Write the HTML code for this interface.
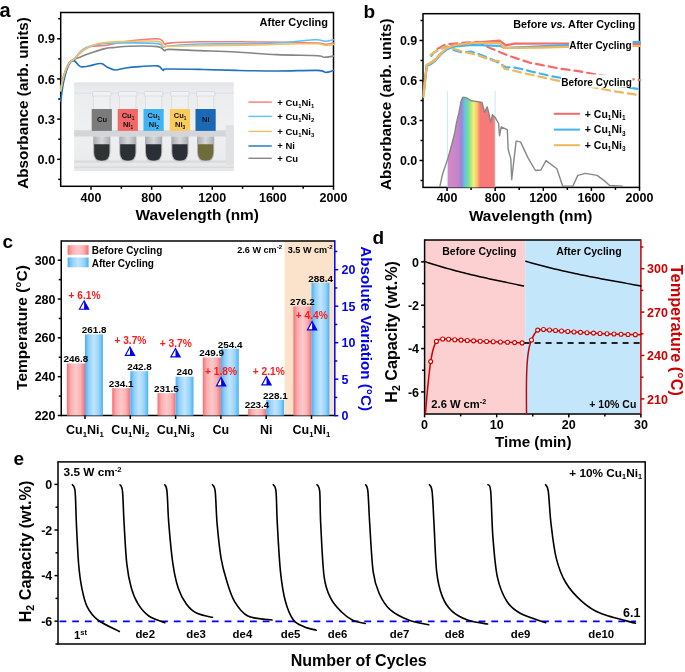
<!DOCTYPE html>
<html><head><meta charset="utf-8"><style>
html,body{margin:0;padding:0;background:#fff;width:685px;height:672px;overflow:hidden}
svg{display:block;filter:blur(0.3px)}
</style></head><body>
<svg width="685" height="672" viewBox="0 0 685 672">
<rect width="685" height="672" fill="#fff"/>
<rect x="60.7" y="12.5" width="272.8" height="173.8" fill="none" stroke="#000" stroke-width="1.5"/>
<line x1="57.20" y1="159.30" x2="60.70" y2="159.30" stroke="#000" stroke-width="1.5" />
<text x="55.00" y="163.90" font-size="12.5" text-anchor="end" fill="#000" font-family="Liberation Sans, sans-serif" font-weight="bold" >0.0</text>
<line x1="57.20" y1="119.13" x2="60.70" y2="119.13" stroke="#000" stroke-width="1.5" />
<text x="55.00" y="123.73" font-size="12.5" text-anchor="end" fill="#000" font-family="Liberation Sans, sans-serif" font-weight="bold" >0.3</text>
<line x1="57.20" y1="78.96" x2="60.70" y2="78.96" stroke="#000" stroke-width="1.5" />
<text x="55.00" y="83.56" font-size="12.5" text-anchor="end" fill="#000" font-family="Liberation Sans, sans-serif" font-weight="bold" >0.6</text>
<line x1="57.20" y1="38.79" x2="60.70" y2="38.79" stroke="#000" stroke-width="1.5" />
<text x="55.00" y="43.39" font-size="12.5" text-anchor="end" fill="#000" font-family="Liberation Sans, sans-serif" font-weight="bold" >0.9</text>
<line x1="58.20" y1="179.39" x2="60.70" y2="179.39" stroke="#000" stroke-width="1.5" />
<line x1="58.20" y1="139.22" x2="60.70" y2="139.22" stroke="#000" stroke-width="1.5" />
<line x1="58.20" y1="99.05" x2="60.70" y2="99.05" stroke="#000" stroke-width="1.5" />
<line x1="58.20" y1="58.88" x2="60.70" y2="58.88" stroke="#000" stroke-width="1.5" />
<line x1="58.20" y1="18.70" x2="60.70" y2="18.70" stroke="#000" stroke-width="1.5" />
<line x1="91.01" y1="186.30" x2="91.01" y2="189.80" stroke="#000" stroke-width="1.5" />
<text x="91.01" y="202.40" font-size="12.5" text-anchor="middle" fill="#000" font-family="Liberation Sans, sans-serif" font-weight="bold" >400</text>
<line x1="151.63" y1="186.30" x2="151.63" y2="189.80" stroke="#000" stroke-width="1.5" />
<text x="151.63" y="202.40" font-size="12.5" text-anchor="middle" fill="#000" font-family="Liberation Sans, sans-serif" font-weight="bold" >800</text>
<line x1="212.26" y1="186.30" x2="212.26" y2="189.80" stroke="#000" stroke-width="1.5" />
<text x="212.26" y="202.40" font-size="12.5" text-anchor="middle" fill="#000" font-family="Liberation Sans, sans-serif" font-weight="bold" >1200</text>
<line x1="272.88" y1="186.30" x2="272.88" y2="189.80" stroke="#000" stroke-width="1.5" />
<text x="272.88" y="202.40" font-size="12.5" text-anchor="middle" fill="#000" font-family="Liberation Sans, sans-serif" font-weight="bold" >1600</text>
<line x1="333.50" y1="186.30" x2="333.50" y2="189.80" stroke="#000" stroke-width="1.5" />
<text x="333.50" y="202.40" font-size="12.5" text-anchor="middle" fill="#000" font-family="Liberation Sans, sans-serif" font-weight="bold" >2000</text>
<line x1="121.32" y1="186.30" x2="121.32" y2="188.80" stroke="#000" stroke-width="1.5" />
<line x1="181.94" y1="186.30" x2="181.94" y2="188.80" stroke="#000" stroke-width="1.5" />
<line x1="242.57" y1="186.30" x2="242.57" y2="188.80" stroke="#000" stroke-width="1.5" />
<line x1="303.19" y1="186.30" x2="303.19" y2="188.80" stroke="#000" stroke-width="1.5" />
<text x="197.20" y="220.40" font-size="15.4" text-anchor="middle" fill="#000" font-family="Liberation Sans, sans-serif" font-weight="bold" >Wavelength (nm)</text>
<text x="28.40" y="103.00" font-size="15.3" text-anchor="middle" fill="#000" font-family="Liberation Sans, sans-serif" font-weight="bold" transform="rotate(-90 28.4 103)">Absorbance (arb. units)</text>
<text x="-0.60" y="16.50" font-size="20" text-anchor="start" fill="#000" font-family="Liberation Sans, sans-serif" font-weight="bold" >a</text>
<text x="328.00" y="26.40" font-size="11" text-anchor="end" fill="#000" font-family="Liberation Sans, sans-serif" font-weight="bold" >After Cycling</text>
<rect x="423.0" y="13.7" width="216.5" height="173.70000000000002" fill="none" stroke="#000" stroke-width="1.5"/>
<line x1="419.50" y1="160.50" x2="423.00" y2="160.50" stroke="#000" stroke-width="1.5" />
<text x="417.30" y="165.10" font-size="12.5" text-anchor="end" fill="#000" font-family="Liberation Sans, sans-serif" font-weight="bold" >0.0</text>
<line x1="419.50" y1="120.50" x2="423.00" y2="120.50" stroke="#000" stroke-width="1.5" />
<text x="417.30" y="125.10" font-size="12.5" text-anchor="end" fill="#000" font-family="Liberation Sans, sans-serif" font-weight="bold" >0.3</text>
<line x1="419.50" y1="80.50" x2="423.00" y2="80.50" stroke="#000" stroke-width="1.5" />
<text x="417.30" y="85.10" font-size="12.5" text-anchor="end" fill="#000" font-family="Liberation Sans, sans-serif" font-weight="bold" >0.6</text>
<line x1="419.50" y1="40.50" x2="423.00" y2="40.50" stroke="#000" stroke-width="1.5" />
<text x="417.30" y="45.10" font-size="12.5" text-anchor="end" fill="#000" font-family="Liberation Sans, sans-serif" font-weight="bold" >0.9</text>
<line x1="420.50" y1="180.50" x2="423.00" y2="180.50" stroke="#000" stroke-width="1.5" />
<line x1="420.50" y1="140.50" x2="423.00" y2="140.50" stroke="#000" stroke-width="1.5" />
<line x1="420.50" y1="100.50" x2="423.00" y2="100.50" stroke="#000" stroke-width="1.5" />
<line x1="420.50" y1="60.50" x2="423.00" y2="60.50" stroke="#000" stroke-width="1.5" />
<line x1="420.50" y1="20.50" x2="423.00" y2="20.50" stroke="#000" stroke-width="1.5" />
<line x1="447.06" y1="187.40" x2="447.06" y2="190.90" stroke="#000" stroke-width="1.5" />
<text x="447.06" y="202.40" font-size="12.5" text-anchor="middle" fill="#000" font-family="Liberation Sans, sans-serif" font-weight="bold" >400</text>
<line x1="495.17" y1="187.40" x2="495.17" y2="190.90" stroke="#000" stroke-width="1.5" />
<text x="495.17" y="202.40" font-size="12.5" text-anchor="middle" fill="#000" font-family="Liberation Sans, sans-serif" font-weight="bold" >800</text>
<line x1="543.28" y1="187.40" x2="543.28" y2="190.90" stroke="#000" stroke-width="1.5" />
<text x="543.28" y="202.40" font-size="12.5" text-anchor="middle" fill="#000" font-family="Liberation Sans, sans-serif" font-weight="bold" >1200</text>
<line x1="591.39" y1="187.40" x2="591.39" y2="190.90" stroke="#000" stroke-width="1.5" />
<text x="591.39" y="202.40" font-size="12.5" text-anchor="middle" fill="#000" font-family="Liberation Sans, sans-serif" font-weight="bold" >1600</text>
<line x1="639.50" y1="187.40" x2="639.50" y2="190.90" stroke="#000" stroke-width="1.5" />
<text x="639.50" y="202.40" font-size="12.5" text-anchor="middle" fill="#000" font-family="Liberation Sans, sans-serif" font-weight="bold" >2000</text>
<line x1="471.11" y1="187.40" x2="471.11" y2="189.90" stroke="#000" stroke-width="1.5" />
<line x1="519.22" y1="187.40" x2="519.22" y2="189.90" stroke="#000" stroke-width="1.5" />
<line x1="567.33" y1="187.40" x2="567.33" y2="189.90" stroke="#000" stroke-width="1.5" />
<line x1="615.44" y1="187.40" x2="615.44" y2="189.90" stroke="#000" stroke-width="1.5" />
<text x="530.60" y="220.60" font-size="15.4" text-anchor="middle" fill="#000" font-family="Liberation Sans, sans-serif" font-weight="bold" >Wavelength (nm)</text>
<text x="390.60" y="104.20" font-size="15.3" text-anchor="middle" fill="#000" font-family="Liberation Sans, sans-serif" font-weight="bold" transform="rotate(-90 390.6 104.2)">Absorbance (arb. units)</text>
<text x="363.50" y="17.90" font-size="19" text-anchor="start" fill="#000" font-family="Liberation Sans, sans-serif" font-weight="bold" >b</text>
<text x="635.30" y="28.00" font-size="10.8" text-anchor="end" fill="#000" font-family="Liberation Sans, sans-serif" font-weight="bold" >Before <tspan font-style="italic">vs.</tspan> After Cycling</text>
<rect x="284.60" y="241.10" width="50.20" height="174.40" fill="#fbe2cb" />
<line x1="61.25" y1="241.10" x2="334.80" y2="241.10" stroke="#000" stroke-width="1.5" />
<line x1="61.25" y1="415.50" x2="334.80" y2="415.50" stroke="#000" stroke-width="1.5" />
<line x1="61.25" y1="240.35" x2="61.25" y2="416.25" stroke="#000" stroke-width="1.5" />
<line x1="334.80" y1="240.35" x2="334.80" y2="416.25" stroke="#0000ee" stroke-width="1.5" />
<line x1="57.75" y1="415.50" x2="61.25" y2="415.50" stroke="#000" stroke-width="1.5" />
<text x="55.50" y="420.10" font-size="12.5" text-anchor="end" fill="#000" font-family="Liberation Sans, sans-serif" font-weight="bold" >220</text>
<line x1="57.75" y1="376.68" x2="61.25" y2="376.68" stroke="#000" stroke-width="1.5" />
<text x="55.50" y="381.28" font-size="12.5" text-anchor="end" fill="#000" font-family="Liberation Sans, sans-serif" font-weight="bold" >240</text>
<line x1="57.75" y1="337.85" x2="61.25" y2="337.85" stroke="#000" stroke-width="1.5" />
<text x="55.50" y="342.45" font-size="12.5" text-anchor="end" fill="#000" font-family="Liberation Sans, sans-serif" font-weight="bold" >260</text>
<line x1="57.75" y1="299.02" x2="61.25" y2="299.02" stroke="#000" stroke-width="1.5" />
<text x="55.50" y="303.62" font-size="12.5" text-anchor="end" fill="#000" font-family="Liberation Sans, sans-serif" font-weight="bold" >280</text>
<line x1="57.75" y1="260.20" x2="61.25" y2="260.20" stroke="#000" stroke-width="1.5" />
<text x="55.50" y="264.80" font-size="12.5" text-anchor="end" fill="#000" font-family="Liberation Sans, sans-serif" font-weight="bold" >300</text>
<line x1="58.75" y1="396.09" x2="61.25" y2="396.09" stroke="#000" stroke-width="1.5" />
<line x1="58.75" y1="357.26" x2="61.25" y2="357.26" stroke="#000" stroke-width="1.5" />
<line x1="58.75" y1="318.44" x2="61.25" y2="318.44" stroke="#000" stroke-width="1.5" />
<line x1="58.75" y1="279.61" x2="61.25" y2="279.61" stroke="#000" stroke-width="1.5" />
<line x1="334.80" y1="415.70" x2="338.30" y2="415.70" stroke="#0000ee" stroke-width="1.5" />
<text x="341.50" y="420.30" font-size="12.5" text-anchor="start" fill="#0000ee" font-family="Liberation Sans, sans-serif" font-weight="bold" >0</text>
<line x1="334.80" y1="379.20" x2="338.30" y2="379.20" stroke="#0000ee" stroke-width="1.5" />
<text x="341.50" y="383.80" font-size="12.5" text-anchor="start" fill="#0000ee" font-family="Liberation Sans, sans-serif" font-weight="bold" >5</text>
<line x1="334.80" y1="342.70" x2="338.30" y2="342.70" stroke="#0000ee" stroke-width="1.5" />
<text x="341.50" y="347.30" font-size="12.5" text-anchor="start" fill="#0000ee" font-family="Liberation Sans, sans-serif" font-weight="bold" >10</text>
<line x1="334.80" y1="306.20" x2="338.30" y2="306.20" stroke="#0000ee" stroke-width="1.5" />
<text x="341.50" y="310.80" font-size="12.5" text-anchor="start" fill="#0000ee" font-family="Liberation Sans, sans-serif" font-weight="bold" >15</text>
<line x1="334.80" y1="269.70" x2="338.30" y2="269.70" stroke="#0000ee" stroke-width="1.5" />
<text x="341.50" y="274.30" font-size="12.5" text-anchor="start" fill="#0000ee" font-family="Liberation Sans, sans-serif" font-weight="bold" >20</text>
<line x1="334.80" y1="397.45" x2="337.30" y2="397.45" stroke="#0000ee" stroke-width="1.5" />
<line x1="334.80" y1="360.95" x2="337.30" y2="360.95" stroke="#0000ee" stroke-width="1.5" />
<line x1="334.80" y1="324.45" x2="337.30" y2="324.45" stroke="#0000ee" stroke-width="1.5" />
<line x1="334.80" y1="287.95" x2="337.30" y2="287.95" stroke="#0000ee" stroke-width="1.5" />
<line x1="334.80" y1="251.45" x2="337.30" y2="251.45" stroke="#0000ee" stroke-width="1.5" />
<text x="360.80" y="328.60" font-size="15.2" text-anchor="middle" fill="#0000ee" font-family="Liberation Sans, sans-serif" font-weight="bold" transform="rotate(90 360.8 328.6)">Absolute Variation (°C)</text>
<text x="26.60" y="327.50" font-size="15.5" text-anchor="middle" fill="#000" font-family="Liberation Sans, sans-serif" font-weight="bold" transform="rotate(-90 26.6 327.5)">Temperature (°C)</text>
<text x="2.40" y="247.90" font-size="19" text-anchor="start" fill="#000" font-family="Liberation Sans, sans-serif" font-weight="bold" >c</text>
<text x="282.00" y="252.90" font-size="9.1" text-anchor="end" fill="#000" font-family="Liberation Sans, sans-serif" font-weight="bold" >2.6 W cm<tspan font-size="6" dy="-4">-2</tspan></text>
<text x="332.50" y="252.90" font-size="9.1" text-anchor="end" fill="#000" font-family="Liberation Sans, sans-serif" font-weight="bold" >3.5 W cm<tspan font-size="6" dy="-4">-2</tspan></text>
<defs>
<linearGradient id="gr" x1="0" x2="1" y1="0" y2="0"><stop offset="0" stop-color="#f76e71"/><stop offset="0.22" stop-color="#fbaeb0"/><stop offset="0.5" stop-color="#fdc9ca"/><stop offset="0.75" stop-color="#fbb3b4"/><stop offset="1" stop-color="#f76e71"/></linearGradient>
<linearGradient id="gb" x1="0" x2="1" y1="0" y2="0"><stop offset="0" stop-color="#44b2f6"/><stop offset="0.22" stop-color="#92d0fa"/><stop offset="0.5" stop-color="#c0e5fd"/><stop offset="0.78" stop-color="#98d3fa"/><stop offset="1" stop-color="#44b2f6"/></linearGradient>
</defs>
<rect x="66.90" y="363.47" width="18.10" height="52.03" fill="url(#gr)" />
<rect x="85.00" y="334.36" width="17.90" height="81.14" fill="url(#gb)" />
<text x="75.80" y="362.27" font-size="9.9" text-anchor="middle" fill="#000" font-family="Liberation Sans, sans-serif" font-weight="bold" >246.8</text>
<text x="94.20" y="333.16" font-size="9.9" text-anchor="middle" fill="#000" font-family="Liberation Sans, sans-serif" font-weight="bold" >261.8</text>
<line x1="85.00" y1="415.50" x2="85.00" y2="419.00" stroke="#000" stroke-width="1.5" />
<text x="85.00" y="433.80" font-size="12.5" text-anchor="middle" fill="#000" font-family="Liberation Sans, sans-serif" font-weight="bold" >Cu<tspan font-size="7.8" dy="2.8">1</tspan><tspan dy="-2.8">Ni</tspan><tspan font-size="7.8" dy="2.8">1</tspan><tspan dy="-2.8"></tspan></text>
<rect x="112.20" y="388.13" width="18.10" height="27.37" fill="url(#gr)" />
<rect x="130.30" y="371.24" width="17.90" height="44.26" fill="url(#gb)" />
<text x="121.10" y="386.93" font-size="9.9" text-anchor="middle" fill="#000" font-family="Liberation Sans, sans-serif" font-weight="bold" >234.1</text>
<text x="139.50" y="370.04" font-size="9.9" text-anchor="middle" fill="#000" font-family="Liberation Sans, sans-serif" font-weight="bold" >242.8</text>
<line x1="130.30" y1="415.50" x2="130.30" y2="419.00" stroke="#000" stroke-width="1.5" />
<text x="130.30" y="433.80" font-size="12.5" text-anchor="middle" fill="#000" font-family="Liberation Sans, sans-serif" font-weight="bold" >Cu<tspan font-size="7.8" dy="2.8">1</tspan><tspan dy="-2.8">Ni</tspan><tspan font-size="7.8" dy="2.8">2</tspan><tspan dy="-2.8"></tspan></text>
<rect x="157.50" y="393.18" width="18.10" height="22.32" fill="url(#gr)" />
<rect x="175.60" y="376.68" width="17.90" height="38.82" fill="url(#gb)" />
<text x="166.40" y="391.98" font-size="9.9" text-anchor="middle" fill="#000" font-family="Liberation Sans, sans-serif" font-weight="bold" >231.5</text>
<text x="184.80" y="375.48" font-size="9.9" text-anchor="middle" fill="#000" font-family="Liberation Sans, sans-serif" font-weight="bold" >240</text>
<line x1="175.60" y1="415.50" x2="175.60" y2="419.00" stroke="#000" stroke-width="1.5" />
<text x="175.60" y="433.80" font-size="12.5" text-anchor="middle" fill="#000" font-family="Liberation Sans, sans-serif" font-weight="bold" >Cu<tspan font-size="7.8" dy="2.8">1</tspan><tspan dy="-2.8">Ni</tspan><tspan font-size="7.8" dy="2.8">3</tspan><tspan dy="-2.8"></tspan></text>
<rect x="202.80" y="357.46" width="18.10" height="58.04" fill="url(#gr)" />
<rect x="220.90" y="348.72" width="17.90" height="66.78" fill="url(#gb)" />
<text x="211.70" y="356.26" font-size="9.9" text-anchor="middle" fill="#000" font-family="Liberation Sans, sans-serif" font-weight="bold" >249.9</text>
<text x="230.10" y="347.52" font-size="9.9" text-anchor="middle" fill="#000" font-family="Liberation Sans, sans-serif" font-weight="bold" >254.4</text>
<line x1="220.90" y1="415.50" x2="220.90" y2="419.00" stroke="#000" stroke-width="1.5" />
<text x="220.90" y="433.80" font-size="12.5" text-anchor="middle" fill="#000" font-family="Liberation Sans, sans-serif" font-weight="bold" >Cu</text>
<rect x="248.10" y="408.90" width="18.10" height="6.60" fill="url(#gr)" />
<rect x="266.20" y="399.78" width="17.90" height="15.72" fill="url(#gb)" />
<text x="257.00" y="407.70" font-size="9.9" text-anchor="middle" fill="#000" font-family="Liberation Sans, sans-serif" font-weight="bold" >223.4</text>
<text x="275.40" y="398.58" font-size="9.9" text-anchor="middle" fill="#000" font-family="Liberation Sans, sans-serif" font-weight="bold" >228.1</text>
<line x1="266.20" y1="415.50" x2="266.20" y2="419.00" stroke="#000" stroke-width="1.5" />
<text x="266.20" y="433.80" font-size="12.5" text-anchor="middle" fill="#000" font-family="Liberation Sans, sans-serif" font-weight="bold" >Ni</text>
<rect x="293.40" y="306.40" width="18.10" height="109.10" fill="url(#gr)" />
<rect x="311.50" y="282.72" width="17.90" height="132.78" fill="url(#gb)" />
<text x="302.30" y="305.20" font-size="9.9" text-anchor="middle" fill="#000" font-family="Liberation Sans, sans-serif" font-weight="bold" >276.2</text>
<text x="320.70" y="281.52" font-size="9.9" text-anchor="middle" fill="#000" font-family="Liberation Sans, sans-serif" font-weight="bold" >288.4</text>
<line x1="311.50" y1="415.50" x2="311.50" y2="419.00" stroke="#000" stroke-width="1.5" />
<text x="311.50" y="433.80" font-size="12.5" text-anchor="middle" fill="#000" font-family="Liberation Sans, sans-serif" font-weight="bold" >Cu<tspan font-size="7.8" dy="2.8">1</tspan><tspan dy="-2.8">Ni</tspan><tspan font-size="7.8" dy="2.8">1</tspan><tspan dy="-2.8"></tspan></text>
<text x="84.60" y="299.10" font-size="10.2" text-anchor="middle" fill="#ff1a1a" font-family="Liberation Sans, sans-serif" font-weight="bold" >+ 6.1%</text>
<path d="M84.10,300.80 L88.80,309.20 L79.40,309.20 Z" fill="#fff"/>
<path d="M84.10,300.80 L88.80,309.20 L84.10,309.20 Z" fill="#0000ee"/>
<path d="M84.10,300.80 L88.80,309.20 L79.40,309.20 Z" fill="none" stroke="#0000ee" stroke-width="1.1" stroke-linejoin="miter"/>
<text x="130.40" y="344.30" font-size="10.2" text-anchor="middle" fill="#ff1a1a" font-family="Liberation Sans, sans-serif" font-weight="bold" >+ 3.7%</text>
<path d="M130.00,347.00 L134.70,355.40 L125.30,355.40 Z" fill="#fff"/>
<path d="M130.00,347.00 L134.70,355.40 L130.00,355.40 Z" fill="#0000ee"/>
<path d="M130.00,347.00 L134.70,355.40 L125.30,355.40 Z" fill="none" stroke="#0000ee" stroke-width="1.1" stroke-linejoin="miter"/>
<text x="175.70" y="346.80" font-size="10.2" text-anchor="middle" fill="#ff1a1a" font-family="Liberation Sans, sans-serif" font-weight="bold" >+ 3.7%</text>
<path d="M175.50,348.50 L180.20,356.90 L170.80,356.90 Z" fill="#fff"/>
<path d="M175.50,348.50 L180.20,356.90 L175.50,356.90 Z" fill="#0000ee"/>
<path d="M175.50,348.50 L180.20,356.90 L170.80,356.90 Z" fill="none" stroke="#0000ee" stroke-width="1.1" stroke-linejoin="miter"/>
<text x="221.10" y="375.00" font-size="10.2" text-anchor="middle" fill="#ff1a1a" font-family="Liberation Sans, sans-serif" font-weight="bold" >+ 1.8%</text>
<path d="M221.10,377.50 L225.80,385.90 L216.40,385.90 Z" fill="#fff"/>
<path d="M221.10,377.50 L225.80,385.90 L221.10,385.90 Z" fill="#0000ee"/>
<path d="M221.10,377.50 L225.80,385.90 L216.40,385.90 Z" fill="none" stroke="#0000ee" stroke-width="1.1" stroke-linejoin="miter"/>
<text x="268.70" y="375.00" font-size="10.2" text-anchor="middle" fill="#ff1a1a" font-family="Liberation Sans, sans-serif" font-weight="bold" >+ 2.1%</text>
<path d="M266.50,376.50 L271.20,384.90 L261.80,384.90 Z" fill="#fff"/>
<path d="M266.50,376.50 L271.20,384.90 L266.50,384.90 Z" fill="#0000ee"/>
<path d="M266.50,376.50 L271.20,384.90 L261.80,384.90 Z" fill="none" stroke="#0000ee" stroke-width="1.1" stroke-linejoin="miter"/>
<text x="311.70" y="318.70" font-size="10.2" text-anchor="middle" fill="#ff1a1a" font-family="Liberation Sans, sans-serif" font-weight="bold" >+ 4.4%</text>
<path d="M312.10,321.50 L316.80,329.90 L307.40,329.90 Z" fill="#fff"/>
<path d="M312.10,321.50 L316.80,329.90 L312.10,329.90 Z" fill="#0000ee"/>
<path d="M312.10,321.50 L316.80,329.90 L307.40,329.90 Z" fill="none" stroke="#0000ee" stroke-width="1.1" stroke-linejoin="miter"/>
<rect x="67.60" y="245.20" width="21.00" height="9.60" fill="url(#gr)" />
<rect x="67.60" y="257.50" width="21.00" height="9.80" fill="url(#gb)" />
<text x="91.70" y="254.40" font-size="10" text-anchor="start" fill="#000" font-family="Liberation Sans, sans-serif" font-weight="bold" >Before Cycling</text>
<text x="91.70" y="266.70" font-size="10" text-anchor="start" fill="#000" font-family="Liberation Sans, sans-serif" font-weight="bold" >After Cycling</text>
<rect x="424.60" y="240.00" width="100.60" height="173.90" fill="#fccfd0" />
<rect x="525.20" y="240.00" width="115.70" height="173.90" fill="#c4e6fb" />
<line x1="424.60" y1="240.00" x2="640.90" y2="240.00" stroke="#000" stroke-width="1.5" />
<line x1="424.60" y1="413.90" x2="640.90" y2="413.90" stroke="#000" stroke-width="1.5" />
<line x1="424.60" y1="239.25" x2="424.60" y2="414.65" stroke="#000" stroke-width="1.5" />
<line x1="640.90" y1="239.25" x2="640.90" y2="414.65" stroke="#cc0000" stroke-width="1.5" />
<line x1="421.10" y1="261.90" x2="424.60" y2="261.90" stroke="#000" stroke-width="1.5" />
<text x="419.00" y="266.50" font-size="12.5" text-anchor="end" fill="#000" font-family="Liberation Sans, sans-serif" font-weight="bold" >0</text>
<line x1="421.10" y1="305.24" x2="424.60" y2="305.24" stroke="#000" stroke-width="1.5" />
<text x="419.00" y="309.84" font-size="12.5" text-anchor="end" fill="#000" font-family="Liberation Sans, sans-serif" font-weight="bold" >-2</text>
<line x1="421.10" y1="348.58" x2="424.60" y2="348.58" stroke="#000" stroke-width="1.5" />
<text x="419.00" y="353.18" font-size="12.5" text-anchor="end" fill="#000" font-family="Liberation Sans, sans-serif" font-weight="bold" >-4</text>
<line x1="421.10" y1="391.92" x2="424.60" y2="391.92" stroke="#000" stroke-width="1.5" />
<text x="419.00" y="396.52" font-size="12.5" text-anchor="end" fill="#000" font-family="Liberation Sans, sans-serif" font-weight="bold" >-6</text>
<line x1="422.10" y1="283.57" x2="424.60" y2="283.57" stroke="#000" stroke-width="1.5" />
<line x1="422.10" y1="326.91" x2="424.60" y2="326.91" stroke="#000" stroke-width="1.5" />
<line x1="422.10" y1="370.25" x2="424.60" y2="370.25" stroke="#000" stroke-width="1.5" />
<line x1="640.90" y1="398.90" x2="644.40" y2="398.90" stroke="#cc0000" stroke-width="1.5" />
<text x="647.00" y="403.50" font-size="12.5" text-anchor="start" fill="#cc0000" font-family="Liberation Sans, sans-serif" font-weight="bold" >210</text>
<line x1="640.90" y1="355.50" x2="644.40" y2="355.50" stroke="#cc0000" stroke-width="1.5" />
<text x="647.00" y="360.10" font-size="12.5" text-anchor="start" fill="#cc0000" font-family="Liberation Sans, sans-serif" font-weight="bold" >240</text>
<line x1="640.90" y1="312.10" x2="644.40" y2="312.10" stroke="#cc0000" stroke-width="1.5" />
<text x="647.00" y="316.70" font-size="12.5" text-anchor="start" fill="#cc0000" font-family="Liberation Sans, sans-serif" font-weight="bold" >270</text>
<line x1="640.90" y1="268.70" x2="644.40" y2="268.70" stroke="#cc0000" stroke-width="1.5" />
<text x="647.00" y="273.30" font-size="12.5" text-anchor="start" fill="#cc0000" font-family="Liberation Sans, sans-serif" font-weight="bold" >300</text>
<line x1="640.90" y1="377.20" x2="643.40" y2="377.20" stroke="#cc0000" stroke-width="1.5" />
<line x1="640.90" y1="333.80" x2="643.40" y2="333.80" stroke="#cc0000" stroke-width="1.5" />
<line x1="640.90" y1="290.40" x2="643.40" y2="290.40" stroke="#cc0000" stroke-width="1.5" />
<line x1="640.90" y1="247.00" x2="643.40" y2="247.00" stroke="#cc0000" stroke-width="1.5" />
<line x1="424.60" y1="413.90" x2="424.60" y2="417.40" stroke="#000" stroke-width="1.5" />
<text x="424.60" y="429.20" font-size="12.5" text-anchor="middle" fill="#000" font-family="Liberation Sans, sans-serif" font-weight="bold" >0</text>
<line x1="496.70" y1="413.90" x2="496.70" y2="417.40" stroke="#000" stroke-width="1.5" />
<text x="496.70" y="429.20" font-size="12.5" text-anchor="middle" fill="#000" font-family="Liberation Sans, sans-serif" font-weight="bold" >10</text>
<line x1="568.80" y1="413.90" x2="568.80" y2="417.40" stroke="#000" stroke-width="1.5" />
<text x="568.80" y="429.20" font-size="12.5" text-anchor="middle" fill="#000" font-family="Liberation Sans, sans-serif" font-weight="bold" >20</text>
<line x1="640.90" y1="413.90" x2="640.90" y2="417.40" stroke="#000" stroke-width="1.5" />
<text x="640.90" y="429.20" font-size="12.5" text-anchor="middle" fill="#000" font-family="Liberation Sans, sans-serif" font-weight="bold" >30</text>
<line x1="460.65" y1="413.90" x2="460.65" y2="416.40" stroke="#000" stroke-width="1.5" />
<line x1="532.75" y1="413.90" x2="532.75" y2="416.40" stroke="#000" stroke-width="1.5" />
<line x1="604.85" y1="413.90" x2="604.85" y2="416.40" stroke="#000" stroke-width="1.5" />
<text x="533.20" y="446.50" font-size="15.2" text-anchor="middle" fill="#000" font-family="Liberation Sans, sans-serif" font-weight="bold" >Time (min)</text>
<text x="396.90" y="331.90" font-size="16.2" text-anchor="middle" fill="#000" font-family="Liberation Sans, sans-serif" font-weight="bold" transform="rotate(-90 396.9 331.9)">H<tspan font-size="10.5" dy="3.5">2</tspan><tspan dy="-3.5"> Capacity (wt.%)</tspan></text>
<text x="670.60" y="330.40" font-size="16.3" text-anchor="middle" fill="#cc0000" font-family="Liberation Sans, sans-serif" font-weight="bold" transform="rotate(90 670.6 330.4)">Temperature (°C)</text>
<text x="372.50" y="243.60" font-size="19" text-anchor="start" fill="#000" font-family="Liberation Sans, sans-serif" font-weight="bold" >d</text>
<text x="479.30" y="254.70" font-size="10.5" text-anchor="middle" fill="#000" font-family="Liberation Sans, sans-serif" font-weight="bold" >Before Cycling</text>
<text x="588.90" y="254.70" font-size="10.5" text-anchor="middle" fill="#000" font-family="Liberation Sans, sans-serif" font-weight="bold" >After Cycling</text>
<text x="431.30" y="407.80" font-size="11.2" text-anchor="start" fill="#000" font-family="Liberation Sans, sans-serif" font-weight="bold" >2.6 W cm<tspan font-size="7.2" dy="-4.2">-2</tspan></text>
<text x="636.30" y="407.90" font-size="10.5" text-anchor="end" fill="#000" font-family="Liberation Sans, sans-serif" font-weight="bold" >+ 10% Cu</text>
<polyline points="424.00,261.30 426.49,262.13 428.98,262.94 431.46,263.74 433.95,264.52 436.44,265.28 438.93,266.03 441.41,266.77 443.90,267.50 446.39,268.21 448.88,268.90 451.36,269.59 453.85,270.26 456.34,270.92 458.82,271.57 461.31,272.21 463.80,272.84 466.29,273.46 468.77,274.07 471.26,274.67 473.75,275.26 476.24,275.84 478.73,276.42 481.21,276.99 483.70,277.55 486.19,278.10 488.68,278.65 491.16,279.19 493.65,279.73 496.14,280.26 498.62,280.79 501.11,281.31 503.60,281.83 506.09,282.35 508.57,282.86 511.06,283.37 513.55,283.88 516.04,284.39 518.52,284.89 521.01,285.40 523.50,285.90" fill="none" stroke="#000" stroke-width="1.5" stroke-linejoin="round" stroke-linecap="round" />
<polyline points="525.80,261.30 528.68,262.13 531.56,262.94 534.44,263.74 537.32,264.52 540.20,265.28 543.08,266.03 545.96,266.77 548.84,267.50 551.72,268.21 554.60,268.90 557.48,269.59 560.36,270.26 563.24,270.92 566.12,271.57 569.00,272.21 571.88,272.84 574.76,273.46 577.64,274.07 580.52,274.67 583.40,275.26 586.28,275.84 589.16,276.42 592.04,276.99 594.92,277.55 597.80,278.10 600.68,278.65 603.56,279.19 606.44,279.73 609.32,280.26 612.20,280.79 615.08,281.31 617.96,281.83 620.84,282.35 623.72,282.86 626.60,283.37 629.48,283.88 632.36,284.39 635.24,284.89 638.12,285.40 641.00,285.90" fill="none" stroke="#000" stroke-width="1.5" stroke-linejoin="round" stroke-linecap="round" />
<line x1="523.60" y1="343.00" x2="641.00" y2="343.00" stroke="#222" stroke-width="1.9" stroke-dasharray="6,5"/>
<path d="M425.40,413.90 C425.67,410.75 426.40,401.48 427.00,395.00 C427.60,388.52 428.38,380.57 429.00,375.00 C429.62,369.43 430.03,365.77 430.70,361.60 C431.37,357.43 432.05,353.37 433.00,350.00 C433.95,346.63 434.85,343.23 436.40,341.40 C437.95,339.57 440.20,339.35 442.30,339.00 C444.40,338.65 445.88,339.12 449.00,339.30 C452.12,339.48 455.83,339.78 461.00,340.10 C466.17,340.42 473.50,340.88 480.00,341.20 C486.50,341.52 492.98,341.72 500.00,342.00 C507.02,342.28 518.42,342.75 522.10,342.90" fill="none" stroke="#d00000" stroke-width="1.5" stroke-linecap="round" stroke-linejoin="round" />
<path d="M526.50,413.90 C526.48,409.92 526.37,396.98 526.40,390.00 C526.43,383.02 526.50,377.33 526.70,372.00 C526.90,366.67 527.17,362.17 527.60,358.00 C528.03,353.83 528.65,350.00 529.30,347.00 C529.95,344.00 530.63,342.17 531.50,340.00 C532.37,337.83 533.47,335.65 534.50,334.00 C535.53,332.35 536.20,330.85 537.70,330.10 C539.20,329.35 540.62,329.43 543.50,329.50 C546.38,329.57 549.75,330.08 555.00,330.50 C560.25,330.92 567.50,331.50 575.00,332.00 C582.50,332.50 592.50,333.12 600.00,333.50 C607.50,333.88 613.17,334.08 620.00,334.30 C626.83,334.52 637.50,334.72 641.00,334.80" fill="none" stroke="#d00000" stroke-width="1.5" stroke-linecap="round" stroke-linejoin="round" />
<circle cx="430.70" cy="361.60" r="2.0" fill="#fff" stroke="#d00000" stroke-width="1.1"/>
<circle cx="436.40" cy="341.40" r="2.0" fill="#fff" stroke="#d00000" stroke-width="1.1"/>
<circle cx="442.70" cy="339.02" r="2.0" fill="#fff" stroke="#d00000" stroke-width="1.1"/>
<circle cx="448.60" cy="339.28" r="2.0" fill="#fff" stroke="#d00000" stroke-width="1.1"/>
<circle cx="454.80" cy="339.69" r="2.0" fill="#fff" stroke="#d00000" stroke-width="1.1"/>
<circle cx="461.00" cy="340.10" r="2.0" fill="#fff" stroke="#d00000" stroke-width="1.1"/>
<circle cx="467.30" cy="340.46" r="2.0" fill="#fff" stroke="#d00000" stroke-width="1.1"/>
<circle cx="473.60" cy="340.83" r="2.0" fill="#fff" stroke="#d00000" stroke-width="1.1"/>
<circle cx="480.20" cy="341.21" r="2.0" fill="#fff" stroke="#d00000" stroke-width="1.1"/>
<circle cx="486.60" cy="341.46" r="2.0" fill="#fff" stroke="#d00000" stroke-width="1.1"/>
<circle cx="493.20" cy="341.73" r="2.0" fill="#fff" stroke="#d00000" stroke-width="1.1"/>
<circle cx="500.40" cy="342.02" r="2.0" fill="#fff" stroke="#d00000" stroke-width="1.1"/>
<circle cx="507.50" cy="342.31" r="2.0" fill="#fff" stroke="#d00000" stroke-width="1.1"/>
<circle cx="514.60" cy="342.59" r="2.0" fill="#fff" stroke="#d00000" stroke-width="1.1"/>
<circle cx="522.10" cy="342.90" r="2.0" fill="#fff" stroke="#d00000" stroke-width="1.1"/>
<circle cx="531.50" cy="340.00" r="2.0" fill="#fff" stroke="#d00000" stroke-width="1.1"/>
<circle cx="537.70" cy="330.10" r="2.0" fill="#fff" stroke="#d00000" stroke-width="1.1"/>
<circle cx="543.50" cy="329.50" r="2.0" fill="#fff" stroke="#d00000" stroke-width="1.1"/>
<circle cx="549.50" cy="330.02" r="2.0" fill="#fff" stroke="#d00000" stroke-width="1.1"/>
<circle cx="555.50" cy="330.54" r="2.0" fill="#fff" stroke="#d00000" stroke-width="1.1"/>
<circle cx="561.50" cy="330.99" r="2.0" fill="#fff" stroke="#d00000" stroke-width="1.1"/>
<circle cx="567.80" cy="331.46" r="2.0" fill="#fff" stroke="#d00000" stroke-width="1.1"/>
<circle cx="574.00" cy="331.93" r="2.0" fill="#fff" stroke="#d00000" stroke-width="1.1"/>
<circle cx="580.50" cy="332.33" r="2.0" fill="#fff" stroke="#d00000" stroke-width="1.1"/>
<circle cx="587.00" cy="332.72" r="2.0" fill="#fff" stroke="#d00000" stroke-width="1.1"/>
<circle cx="593.50" cy="333.11" r="2.0" fill="#fff" stroke="#d00000" stroke-width="1.1"/>
<circle cx="600.00" cy="333.50" r="2.0" fill="#fff" stroke="#d00000" stroke-width="1.1"/>
<circle cx="607.00" cy="333.78" r="2.0" fill="#fff" stroke="#d00000" stroke-width="1.1"/>
<circle cx="614.00" cy="334.06" r="2.0" fill="#fff" stroke="#d00000" stroke-width="1.1"/>
<circle cx="621.00" cy="334.32" r="2.0" fill="#fff" stroke="#d00000" stroke-width="1.1"/>
<circle cx="628.00" cy="334.49" r="2.0" fill="#fff" stroke="#d00000" stroke-width="1.1"/>
<circle cx="635.30" cy="334.66" r="2.0" fill="#fff" stroke="#d00000" stroke-width="1.1"/>
<rect x="58.0" y="461.9" width="587.2" height="182.10000000000002" fill="none" stroke="#000" stroke-width="1.5"/>
<line x1="54.50" y1="484.40" x2="58.00" y2="484.40" stroke="#000" stroke-width="1.5" />
<text x="52.30" y="489.00" font-size="12.5" text-anchor="end" fill="#000" font-family="Liberation Sans, sans-serif" font-weight="bold" >0</text>
<line x1="54.50" y1="530.00" x2="58.00" y2="530.00" stroke="#000" stroke-width="1.5" />
<text x="52.30" y="534.60" font-size="12.5" text-anchor="end" fill="#000" font-family="Liberation Sans, sans-serif" font-weight="bold" >-2</text>
<line x1="54.50" y1="575.60" x2="58.00" y2="575.60" stroke="#000" stroke-width="1.5" />
<text x="52.30" y="580.20" font-size="12.5" text-anchor="end" fill="#000" font-family="Liberation Sans, sans-serif" font-weight="bold" >-4</text>
<line x1="54.50" y1="621.20" x2="58.00" y2="621.20" stroke="#000" stroke-width="1.5" />
<text x="52.30" y="625.80" font-size="12.5" text-anchor="end" fill="#000" font-family="Liberation Sans, sans-serif" font-weight="bold" >-6</text>
<line x1="55.50" y1="507.20" x2="58.00" y2="507.20" stroke="#000" stroke-width="1.5" />
<line x1="55.50" y1="552.80" x2="58.00" y2="552.80" stroke="#000" stroke-width="1.5" />
<line x1="55.50" y1="598.40" x2="58.00" y2="598.40" stroke="#000" stroke-width="1.5" />
<line x1="55.50" y1="644.00" x2="58.00" y2="644.00" stroke="#000" stroke-width="1.5" />
<line x1="59.50" y1="621.30" x2="636.00" y2="621.30" stroke="#0000ff" stroke-width="1.7" stroke-dasharray="6.8,5.9"/>
<path d="M72.40,484.70 C72.85,485.82 74.43,484.92 75.10,491.40 C75.77,497.88 75.82,511.53 76.40,523.60 C76.98,535.67 77.70,553.08 78.60,563.80 C79.50,574.52 80.38,580.77 81.80,587.90 C83.22,595.03 84.42,601.25 87.10,606.60 C89.78,611.95 92.53,615.85 97.90,620.00 C103.27,624.15 115.73,629.58 119.30,631.50" fill="none" stroke="#000" stroke-width="1.6" stroke-linecap="round" stroke-linejoin="round" />
<path d="M120.10,484.70 C120.50,485.82 121.83,484.92 122.50,491.40 C123.17,497.88 123.38,511.53 124.10,523.60 C124.82,535.67 125.60,553.08 126.80,563.80 C128.00,574.52 129.43,581.22 131.30,587.90 C133.17,594.58 135.08,599.22 138.00,603.90 C140.92,608.58 144.33,612.87 148.80,616.00 C153.27,619.13 162.13,621.58 164.80,622.70" fill="none" stroke="#000" stroke-width="1.6" stroke-linecap="round" stroke-linejoin="round" />
<path d="M164.80,484.70 C165.17,485.82 166.33,484.92 167.00,491.40 C167.67,497.88 167.82,511.53 168.80,523.60 C169.78,535.67 171.33,553.08 172.90,563.80 C174.47,574.52 175.97,581.22 178.20,587.90 C180.43,594.58 183.17,599.67 186.30,603.90 C189.43,608.13 192.63,611.07 197.00,613.30 C201.37,615.53 209.92,616.63 212.50,617.30" fill="none" stroke="#000" stroke-width="1.6" stroke-linecap="round" stroke-linejoin="round" />
<path d="M212.50,484.70 C212.95,485.82 214.43,484.92 215.20,491.40 C215.97,497.88 216.12,512.43 217.10,523.60 C218.08,534.77 219.55,549.03 221.10,558.40 C222.65,567.77 224.17,572.65 226.40,579.80 C228.63,586.95 230.92,595.27 234.50,601.30 C238.08,607.33 241.65,612.88 247.90,616.00 C254.15,619.12 267.98,619.33 272.00,620.00" fill="none" stroke="#000" stroke-width="1.6" stroke-linecap="round" stroke-linejoin="round" />
<path d="M273.30,484.70 C273.75,485.82 275.33,484.92 276.00,491.40 C276.67,497.88 276.55,510.20 277.30,523.60 C278.05,537.00 279.15,558.85 280.50,571.80 C281.85,584.75 283.25,593.27 285.40,601.30 C287.55,609.33 290.28,615.77 293.40,620.00 C296.52,624.23 300.30,625.00 304.10,626.70 C307.90,628.40 314.18,629.62 316.20,630.20" fill="none" stroke="#000" stroke-width="1.6" stroke-linecap="round" stroke-linejoin="round" />
<path d="M317.00,484.70 C317.45,485.82 319.08,484.92 319.70,491.40 C320.32,497.88 319.95,509.30 320.70,523.60 C321.45,537.90 322.50,564.70 324.20,577.20 C325.90,589.70 328.00,592.80 330.90,598.60 C333.80,604.40 338.03,608.43 341.60,612.00 C345.17,615.57 348.37,618.08 352.30,620.00 C356.23,621.92 363.05,622.92 365.20,623.50" fill="none" stroke="#000" stroke-width="1.6" stroke-linecap="round" stroke-linejoin="round" />
<path d="M365.70,484.70 C366.07,485.82 367.23,484.92 367.90,491.40 C368.57,497.88 368.82,510.20 369.70,523.60 C370.58,537.00 371.63,560.20 373.20,571.80 C374.77,583.40 376.33,586.95 379.10,593.20 C381.87,599.45 384.88,604.83 389.80,609.30 C394.72,613.77 402.12,617.42 408.60,620.00 C415.08,622.58 425.35,624.00 428.70,624.80" fill="none" stroke="#000" stroke-width="1.6" stroke-linecap="round" stroke-linejoin="round" />
<path d="M429.50,484.70 C429.93,485.82 431.35,484.92 432.10,491.40 C432.85,497.88 433.23,510.20 434.00,523.60 C434.77,537.00 435.35,559.75 436.70,571.80 C438.05,583.85 439.65,589.43 442.10,595.90 C444.55,602.37 447.17,606.58 451.40,610.60 C455.63,614.62 461.47,617.77 467.50,620.00 C473.53,622.23 484.25,623.33 487.60,624.00" fill="none" stroke="#000" stroke-width="1.6" stroke-linecap="round" stroke-linejoin="round" />
<path d="M488.00,484.70 C488.45,485.82 489.88,482.68 490.70,491.40 C491.52,500.12 491.78,522.70 492.90,537.00 C494.02,551.30 495.08,566.48 497.40,577.20 C499.72,587.92 503.00,595.28 506.80,601.30 C510.60,607.32 513.73,609.73 520.20,613.30 C526.67,616.87 541.37,621.13 545.60,622.70" fill="none" stroke="#000" stroke-width="1.6" stroke-linecap="round" stroke-linejoin="round" />
<path d="M545.60,484.70 C546.05,485.82 547.40,484.92 548.30,491.40 C549.20,497.88 549.67,512.43 551.00,523.60 C552.33,534.77 553.85,548.58 556.30,558.40 C558.75,568.22 561.45,575.35 565.70,582.50 C569.95,589.65 576.00,596.17 581.80,601.30 C587.60,606.43 591.57,609.65 600.50,613.30 C609.43,616.95 629.58,621.55 635.40,623.20" fill="none" stroke="#000" stroke-width="1.6" stroke-linecap="round" stroke-linejoin="round" />
<text x="73.90" y="639.20" font-size="11.4" text-anchor="start" fill="#000" font-family="Liberation Sans, sans-serif" font-weight="bold" >1<tspan font-size="7.5" dy="-4.5">st</tspan></text>
<text x="135.40" y="638.20" font-size="11.4" text-anchor="start" fill="#000" font-family="Liberation Sans, sans-serif" font-weight="bold" >de2</text>
<text x="186.30" y="638.20" font-size="11.4" text-anchor="start" fill="#000" font-family="Liberation Sans, sans-serif" font-weight="bold" >de3</text>
<text x="232.60" y="638.20" font-size="11.4" text-anchor="start" fill="#000" font-family="Liberation Sans, sans-serif" font-weight="bold" >de4</text>
<text x="280.80" y="638.20" font-size="11.4" text-anchor="start" fill="#000" font-family="Liberation Sans, sans-serif" font-weight="bold" >de5</text>
<text x="327.70" y="638.20" font-size="11.4" text-anchor="start" fill="#000" font-family="Liberation Sans, sans-serif" font-weight="bold" >de6</text>
<text x="389.80" y="638.20" font-size="11.4" text-anchor="start" fill="#000" font-family="Liberation Sans, sans-serif" font-weight="bold" >de7</text>
<text x="444.70" y="638.20" font-size="11.4" text-anchor="start" fill="#000" font-family="Liberation Sans, sans-serif" font-weight="bold" >de8</text>
<text x="510.80" y="638.20" font-size="11.4" text-anchor="start" fill="#000" font-family="Liberation Sans, sans-serif" font-weight="bold" >de9</text>
<text x="588.20" y="638.20" font-size="11.4" text-anchor="start" fill="#000" font-family="Liberation Sans, sans-serif" font-weight="bold" >de10</text>
<text x="640.50" y="617.20" font-size="12.5" text-anchor="end" fill="#000" font-family="Liberation Sans, sans-serif" font-weight="bold" >6.1</text>
<text x="63.60" y="476.00" font-size="11.8" text-anchor="start" fill="#000" font-family="Liberation Sans, sans-serif" font-weight="bold" >3.5 W cm<tspan font-size="7.8" dy="-4.5">-2</tspan></text>
<text x="642.00" y="476.60" font-size="11.8" text-anchor="end" fill="#000" font-family="Liberation Sans, sans-serif" font-weight="bold" >+ 10% Cu<tspan font-size="7.3" dy="2.6">1</tspan><tspan dy="-2.6">Ni</tspan><tspan font-size="7.3" dy="2.6">1</tspan><tspan dy="-2.6"></tspan></text>
<text x="358.70" y="666.30" font-size="16" text-anchor="middle" fill="#000" font-family="Liberation Sans, sans-serif" font-weight="bold" >Number of Cycles</text>
<text x="30.70" y="551.50" font-size="16.2" text-anchor="middle" fill="#000" font-family="Liberation Sans, sans-serif" font-weight="bold" transform="rotate(-90 30.7 551.5)">H<tspan font-size="10.5" dy="3.5">2</tspan><tspan dy="-3.5"> Capacity (wt.%)</tspan></text>
<text x="13.50" y="465.40" font-size="19" text-anchor="start" fill="#000" font-family="Liberation Sans, sans-serif" font-weight="bold" >e</text>
<path d="M60.70,89.00 C61.25,86.67 62.58,79.35 64.00,75.00 C65.42,70.65 67.48,65.48 69.20,62.90 C70.92,60.32 72.77,60.35 74.30,59.50 C75.83,58.65 76.00,58.77 78.40,57.80 C80.80,56.83 84.27,55.23 88.70,53.70 C93.13,52.17 100.92,49.62 105.00,48.60 C109.08,47.58 109.12,48.00 113.20,47.60 C117.28,47.20 122.12,46.37 129.50,46.20 C136.88,46.03 151.67,45.87 157.50,46.60 C163.33,47.33 162.58,50.13 164.50,50.60 C166.42,51.07 163.08,49.40 169.00,49.40 C174.92,49.40 188.85,50.17 200.00,50.60 C211.15,51.03 223.12,51.33 235.90,52.00 C248.68,52.67 263.08,53.98 276.70,54.60 C290.32,55.22 309.75,55.25 317.60,55.70 C325.45,56.15 321.15,57.23 323.80,57.30 C326.45,57.37 331.88,56.30 333.50,56.10" fill="none" stroke="#858585" stroke-width="1.6" stroke-linecap="round" stroke-linejoin="round" />
<path d="M60.70,101.00 C61.25,97.50 62.58,86.17 64.00,80.00 C65.42,73.83 67.48,67.18 69.20,64.00 C70.92,60.82 72.43,60.47 74.30,60.90 C76.17,61.33 78.00,65.75 80.40,66.60 C82.80,67.45 85.28,66.52 88.70,66.00 C92.12,65.48 97.85,63.33 100.90,63.50 C103.95,63.67 104.62,65.92 107.00,67.00 C109.38,68.08 112.13,69.83 115.20,70.00 C118.27,70.17 121.32,68.57 125.40,68.00 C129.48,67.43 134.35,66.95 139.70,66.60 C145.05,66.25 153.58,65.28 157.50,65.90 C161.42,66.52 161.73,69.78 163.20,70.30 C164.67,70.82 160.17,69.15 166.30,69.00 C172.43,68.85 188.40,69.17 200.00,69.40 C211.60,69.63 223.12,70.13 235.90,70.40 C248.68,70.67 263.08,71.00 276.70,71.00 C290.32,71.00 309.42,70.17 317.60,70.40 C325.78,70.63 323.15,72.40 325.80,72.40 C328.45,72.40 332.22,70.73 333.50,70.40" fill="none" stroke="#1f72b9" stroke-width="1.6" stroke-linecap="round" stroke-linejoin="round" />
<path d="M60.70,89.00 C61.25,86.67 62.58,79.35 64.00,75.00 C65.42,70.65 67.48,65.57 69.20,62.90 C70.92,60.23 72.42,60.70 74.30,59.00 C76.18,57.30 77.77,54.77 80.50,52.70 C83.23,50.63 86.62,47.80 90.70,46.60 C94.78,45.40 99.22,46.35 105.00,45.50 C110.78,44.65 116.65,42.62 125.40,41.50 C134.15,40.38 150.90,38.32 157.50,38.80 C164.10,39.28 163.08,43.68 165.00,44.40 C166.92,45.12 163.17,43.53 169.00,43.10 C174.83,42.67 188.17,42.02 200.00,41.80 C211.83,41.58 225.50,41.70 240.00,41.80 C254.50,41.90 274.07,42.20 287.00,42.40 C299.93,42.60 311.13,42.67 317.60,43.00 C324.07,43.33 323.15,44.40 325.80,44.40 C328.45,44.40 332.22,43.23 333.50,43.00" fill="none" stroke="#f7797a" stroke-width="1.6" stroke-linecap="round" stroke-linejoin="round" />
<path d="M60.70,89.00 C61.25,86.67 62.58,79.35 64.00,75.00 C65.42,70.65 67.48,65.57 69.20,62.90 C70.92,60.23 72.08,61.22 74.30,59.00 C76.52,56.78 78.40,52.08 82.50,49.60 C86.60,47.12 91.75,45.22 98.90,44.10 C106.05,42.98 115.63,42.98 125.40,42.90 C135.17,42.82 151.23,42.90 157.50,43.60 C163.77,44.30 161.08,46.70 163.00,47.10 C164.92,47.50 162.83,46.52 169.00,46.00 C175.17,45.48 185.45,44.37 200.00,44.00 C214.55,43.63 241.80,44.07 256.30,43.80 C270.80,43.53 278.48,42.98 287.00,42.40 C295.52,41.82 302.30,40.75 307.40,40.30 C312.50,39.85 314.53,39.53 317.60,39.70 C320.67,39.87 323.15,41.30 325.80,41.30 C328.45,41.30 332.22,39.97 333.50,39.70" fill="none" stroke="#5ec1f5" stroke-width="1.6" stroke-linecap="round" stroke-linejoin="round" />
<path d="M60.70,91.00 C61.25,88.33 62.58,79.68 64.00,75.00 C65.42,70.32 67.48,65.57 69.20,62.90 C70.92,60.23 72.08,61.03 74.30,59.00 C76.52,56.97 78.40,53.28 82.50,50.70 C86.60,48.12 91.75,45.03 98.90,43.50 C106.05,41.97 115.63,41.85 125.40,41.50 C135.17,41.15 151.13,40.55 157.50,41.40 C163.87,42.25 161.68,45.80 163.60,46.60 C165.52,47.40 162.93,46.33 169.00,46.20 C175.07,46.07 185.45,46.00 200.00,45.80 C214.55,45.60 240.10,45.33 256.30,45.00 C272.50,44.67 286.98,44.00 297.20,43.80 C307.42,43.60 312.83,43.53 317.60,43.80 C322.37,44.07 323.15,45.30 325.80,45.40 C328.45,45.50 332.22,44.57 333.50,44.40" fill="none" stroke="#efc065" stroke-width="1.6" stroke-linecap="round" stroke-linejoin="round" />
<defs><linearGradient id="ph" x1="0" x2="0" y1="0" y2="1"><stop offset="0" stop-color="#e2e4e7"/><stop offset="0.12" stop-color="#eaecee"/><stop offset="0.5" stop-color="#eef0f1"/><stop offset="0.85" stop-color="#ebecee"/><stop offset="1" stop-color="#e4e5e7"/></linearGradient><linearGradient id="tb" x1="0" x2="1" y1="0" y2="0"><stop offset="0" stop-color="#a9abae"/><stop offset="0.5" stop-color="#d6d8da"/><stop offset="1" stop-color="#a9abae"/></linearGradient></defs>
<rect x="74.20" y="82.30" width="159.60" height="88.60" fill="url(#ph)" />
<rect x="74.20" y="92.50" width="159.60" height="1.20" fill="#e0e2e5" />
<rect x="74.20" y="130.30" width="159.60" height="6.20" fill="#d3d5d8" />
<rect x="74.20" y="160.50" width="159.60" height="2.20" fill="#d8dadc" />
<rect x="74.20" y="166.50" width="159.60" height="1.50" fill="#dadbdd" />
<rect x="225.70" y="125.00" width="8.20" height="40.00" fill="#dfe1e3" />
<rect x="92.60" y="91.5" width="18.4" height="5" rx="1" fill="#f1f2f3" stroke="#d2d4d6" stroke-width="0.8"/>
<rect x="93.60" y="96" width="16.4" height="34" fill="#eff0f2" stroke="#d8dadc" stroke-width="0.8"/>
<path d="M93.20,136.5 L110.40,136.5 L110.40,152 Q110.40,162 101.80,162 Q93.20,162 93.20,152 Z" fill="url(#tb)"/>
<path d="M94.20,144.3 L109.40,144.3 L109.40,152.5 Q109.40,160.8 101.80,160.8 Q94.20,160.8 94.20,152.5 Z" fill="#2f3331"/>
<rect x="91.70" y="109.00" width="20.20" height="21.90" fill="#7b7b7b" />
<text x="102.00" y="122.40" font-size="7.5" text-anchor="middle" fill="#111" font-family="Liberation Sans, sans-serif" font-weight="bold" >Cu</text>
<rect x="118.60" y="91.5" width="18.4" height="5" rx="1" fill="#f1f2f3" stroke="#d2d4d6" stroke-width="0.8"/>
<rect x="119.60" y="96" width="16.4" height="34" fill="#eff0f2" stroke="#d8dadc" stroke-width="0.8"/>
<path d="M119.20,136.5 L136.40,136.5 L136.40,152 Q136.40,162 127.80,162 Q119.20,162 119.20,152 Z" fill="url(#tb)"/>
<path d="M120.20,144.3 L135.40,144.3 L135.40,152.5 Q135.40,160.8 127.80,160.8 Q120.20,160.8 120.20,152.5 Z" fill="#2b3034"/>
<rect x="117.70" y="109.00" width="20.20" height="21.90" fill="#f26767" />
<text x="128.00" y="117.90" font-size="7.5" text-anchor="middle" fill="#111" font-family="Liberation Sans, sans-serif" font-weight="bold" >Cu<tspan font-size="4.7" dy="1.6">1</tspan><tspan dy="-1.6"></tspan></text>
<text x="128.00" y="126.90" font-size="7.5" text-anchor="middle" fill="#111" font-family="Liberation Sans, sans-serif" font-weight="bold" >Ni<tspan font-size="4.7" dy="1.6">1</tspan><tspan dy="-1.6"></tspan></text>
<rect x="144.40" y="91.5" width="18.4" height="5" rx="1" fill="#f1f2f3" stroke="#d2d4d6" stroke-width="0.8"/>
<rect x="145.40" y="96" width="16.4" height="34" fill="#eff0f2" stroke="#d8dadc" stroke-width="0.8"/>
<path d="M145.00,136.5 L162.20,136.5 L162.20,152 Q162.20,162 153.60,162 Q145.00,162 145.00,152 Z" fill="url(#tb)"/>
<path d="M146.00,144.3 L161.20,144.3 L161.20,152.5 Q161.20,160.8 153.60,160.8 Q146.00,160.8 146.00,152.5 Z" fill="#2a2e35"/>
<rect x="143.50" y="109.00" width="20.20" height="21.90" fill="#40b4f2" />
<text x="153.80" y="117.90" font-size="7.5" text-anchor="middle" fill="#111" font-family="Liberation Sans, sans-serif" font-weight="bold" >Cu<tspan font-size="4.7" dy="1.6">1</tspan><tspan dy="-1.6"></tspan></text>
<text x="153.80" y="126.90" font-size="7.5" text-anchor="middle" fill="#111" font-family="Liberation Sans, sans-serif" font-weight="bold" >Ni<tspan font-size="4.7" dy="1.6">2</tspan><tspan dy="-1.6"></tspan></text>
<rect x="170.70" y="91.5" width="18.4" height="5" rx="1" fill="#f1f2f3" stroke="#d2d4d6" stroke-width="0.8"/>
<rect x="171.70" y="96" width="16.4" height="34" fill="#eff0f2" stroke="#d8dadc" stroke-width="0.8"/>
<path d="M171.30,136.5 L188.50,136.5 L188.50,152 Q188.50,162 179.90,162 Q171.30,162 171.30,152 Z" fill="url(#tb)"/>
<path d="M172.30,144.3 L187.50,144.3 L187.50,152.5 Q187.50,160.8 179.90,160.8 Q172.30,160.8 172.30,152.5 Z" fill="#2c3036"/>
<rect x="169.80" y="109.00" width="20.20" height="21.90" fill="#fbcb5c" />
<text x="180.10" y="117.90" font-size="7.5" text-anchor="middle" fill="#111" font-family="Liberation Sans, sans-serif" font-weight="bold" >Cu<tspan font-size="4.7" dy="1.6">1</tspan><tspan dy="-1.6"></tspan></text>
<text x="180.10" y="126.90" font-size="7.5" text-anchor="middle" fill="#111" font-family="Liberation Sans, sans-serif" font-weight="bold" >Ni<tspan font-size="4.7" dy="1.6">3</tspan><tspan dy="-1.6"></tspan></text>
<rect x="196.40" y="91.5" width="18.4" height="5" rx="1" fill="#f1f2f3" stroke="#d2d4d6" stroke-width="0.8"/>
<rect x="197.40" y="96" width="16.4" height="34" fill="#eff0f2" stroke="#d8dadc" stroke-width="0.8"/>
<path d="M197.00,136.5 L214.20,136.5 L214.20,152 Q214.20,162 205.60,162 Q197.00,162 197.00,152 Z" fill="url(#tb)"/>
<path d="M198.00,144.3 L213.20,144.3 L213.20,152.5 Q213.20,160.8 205.60,160.8 Q198.00,160.8 198.00,152.5 Z" fill="#6f6c3c"/>
<rect x="195.50" y="109.00" width="20.20" height="21.90" fill="#1a69b4" />
<text x="205.80" y="122.40" font-size="7.5" text-anchor="middle" fill="#111" font-family="Liberation Sans, sans-serif" font-weight="bold" >Ni</text>
<line x1="248.40" y1="102.10" x2="271.80" y2="102.10" stroke="#f7797a" stroke-width="1.4" />
<text x="277.30" y="105.50" font-size="9.5" text-anchor="start" fill="#000" font-family="Liberation Sans, sans-serif" font-weight="bold" >+ Cu<tspan font-size="5.9" dy="2.1">1</tspan><tspan dy="-2.1">Ni</tspan><tspan font-size="5.9" dy="2.1">1</tspan><tspan dy="-2.1"></tspan></text>
<line x1="248.40" y1="116.40" x2="271.80" y2="116.40" stroke="#5ec1f5" stroke-width="1.4" />
<text x="277.30" y="119.80" font-size="9.5" text-anchor="start" fill="#000" font-family="Liberation Sans, sans-serif" font-weight="bold" >+ Cu<tspan font-size="5.9" dy="2.1">1</tspan><tspan dy="-2.1">Ni</tspan><tspan font-size="5.9" dy="2.1">2</tspan><tspan dy="-2.1"></tspan></text>
<line x1="248.40" y1="131.40" x2="271.80" y2="131.40" stroke="#efc065" stroke-width="1.4" />
<text x="277.30" y="134.80" font-size="9.5" text-anchor="start" fill="#000" font-family="Liberation Sans, sans-serif" font-weight="bold" >+ Cu<tspan font-size="5.9" dy="2.1">1</tspan><tspan dy="-2.1">Ni</tspan><tspan font-size="5.9" dy="2.1">3</tspan><tspan dy="-2.1"></tspan></text>
<line x1="248.40" y1="146.00" x2="271.80" y2="146.00" stroke="#1f72b9" stroke-width="1.4" />
<text x="277.30" y="149.40" font-size="9.5" text-anchor="start" fill="#000" font-family="Liberation Sans, sans-serif" font-weight="bold" >+ Ni</text>
<line x1="248.40" y1="158.30" x2="271.80" y2="158.30" stroke="#858585" stroke-width="1.4" />
<text x="277.30" y="161.70" font-size="9.5" text-anchor="start" fill="#000" font-family="Liberation Sans, sans-serif" font-weight="bold" >+ Cu</text>
<defs><linearGradient id="rb" x1="447.4" x2="495.1" y1="0" y2="0" gradientUnits="userSpaceOnUse"><stop offset="0" stop-color="#d889c4"/><stop offset="0.22" stop-color="#c384cc"/><stop offset="0.3" stop-color="#9b86d6"/><stop offset="0.36" stop-color="#5ec5e6"/><stop offset="0.45" stop-color="#7fe08a"/><stop offset="0.55" stop-color="#f5f07a"/><stop offset="0.63" stop-color="#fbc06a"/><stop offset="0.68" stop-color="#f87a78"/><stop offset="1" stop-color="#f87a78"/></linearGradient></defs>
<path d="M447.40,187.40 L447.80,158.60 L451.30,146.30 L454.80,132.30 L456.50,122.70 L459.20,111.30 L461.00,101.60 L462.60,97.50 L464.40,97.30 L467.00,98.10 L471.40,100.80 L477.60,101.60 L482.00,102.50 L484.60,112.20 L487.20,106.90 L489.00,113.90 L490.70,122.70 L492.40,114.80 L495.10,117.40 L495.10,187.40 Z" fill="url(#rb)"/>
<line x1="447.40" y1="91.00" x2="447.40" y2="187.00" stroke="#b8e4ee" stroke-width="0.8" />
<line x1="495.10" y1="91.00" x2="495.10" y2="187.00" stroke="#b8e4ee" stroke-width="0.8" />
<polyline points="439.90,186.30 442.50,174.30 447.80,158.60 451.30,146.30 454.80,132.30 456.50,122.70 459.20,111.30 461.00,101.60 462.60,97.50 464.40,97.30 467.00,98.10 471.40,100.80 477.60,101.60 482.00,102.50 484.60,112.20 487.20,106.90 489.00,113.90 490.70,122.70 492.40,114.80 495.10,117.40 498.60,123.50 499.50,135.80 501.20,127.00 507.30,129.70 508.20,149.80 510.80,158.60 511.70,179.60 516.10,141.10 520.50,141.90 528.40,158.60 535.40,170.50 540.90,170.00 546.00,160.60 556.90,168.70 562.70,186.30 572.80,186.30 577.80,175.40 585.40,173.40 597.10,175.40 603.90,180.40 609.70,185.50 622.30,186.30" fill="none" stroke="#878787" stroke-width="1.4" stroke-linejoin="round" stroke-linecap="round" />
<polyline points="437.50,48.90 445.40,44.50 462.00,42.80 478.00,41.90 490.00,48.00 500.60,52.40 509.40,56.00 518.00,58.90 530.00,62.80 540.00,64.70 560.20,68.70 578.70,71.20 597.00,74.60 640.00,80.10" fill="none" stroke="#f46a6a" stroke-width="2.2" stroke-linejoin="round" stroke-linecap="round" stroke-dasharray="8,5"/>
<polyline points="431.40,55.90 434.00,52.40 446.30,46.30 453.30,49.80 462.00,52.40 470.80,51.50 481.30,55.00 493.60,60.30 497.00,62.00 505.80,67.30 512.90,67.30 521.60,69.00 532.00,71.70 551.80,76.20 561.00,77.90 640.00,89.20" fill="none" stroke="#41b3f3" stroke-width="2.2" stroke-linejoin="round" stroke-linecap="round" stroke-dasharray="8,5"/>
<polyline points="430.50,55.00 438.40,49.80 446.30,46.30 462.00,51.50 470.80,53.30 479.60,55.90 491.80,60.30 498.80,61.20 505.00,69.00 511.00,70.00 521.60,72.60 545.10,77.90 555.20,80.10 597.00,88.00 614.00,91.30 640.00,95.20" fill="none" stroke="#ebb85c" stroke-width="2.2" stroke-linejoin="round" stroke-linecap="round" stroke-dasharray="8,5"/>
<polyline points="423.50,92.00 426.80,65.00 430.00,63.50 435.60,59.50 440.80,53.50 447.00,48.30 455.00,45.40 472.60,42.80 499.70,40.70 505.80,45.40 514.60,43.70 568.00,43.50 640.00,43.80" fill="none" stroke="#f46a6a" stroke-width="2.2" stroke-linejoin="round" stroke-linecap="round" />
<polyline points="423.50,95.00 426.80,66.00 430.00,64.50 435.60,60.50 440.80,54.50 447.00,49.30 455.00,46.50 472.60,45.00 499.70,45.90 505.80,48.00 540.00,46.30 568.00,45.20 640.00,41.80" fill="none" stroke="#41b3f3" stroke-width="2.2" stroke-linejoin="round" stroke-linecap="round" />
<polyline points="423.50,97.00 426.80,65.00 430.00,63.30 435.60,59.80 440.80,53.70 447.00,48.00 455.00,45.00 472.60,42.80 499.70,42.80 504.10,48.00 540.00,47.70 568.00,46.90 640.00,46.00" fill="none" stroke="#ebb85c" stroke-width="2.2" stroke-linejoin="round" stroke-linecap="round" />
<rect x="569.00" y="37.50" width="63.50" height="13.00" fill="#fff" />
<rect x="561.00" y="74.50" width="71.50" height="13.00" fill="#fff" />
<text x="631.50" y="48.90" font-size="10" text-anchor="end" fill="#000" font-family="Liberation Sans, sans-serif" font-weight="bold" >After Cycling</text>
<text x="631.80" y="85.50" font-size="10" text-anchor="end" fill="#000" font-family="Liberation Sans, sans-serif" font-weight="bold" >Before Cycling</text>
<line x1="553.80" y1="113.80" x2="579.90" y2="113.80" stroke="#f46a6a" stroke-width="2.0" />
<text x="584.80" y="117.60" font-size="10.5" text-anchor="start" fill="#000" font-family="Liberation Sans, sans-serif" font-weight="bold" >+ Cu<tspan font-size="6.5" dy="2.3">1</tspan><tspan dy="-2.3">Ni</tspan><tspan font-size="6.5" dy="2.3">1</tspan><tspan dy="-2.3"></tspan></text>
<line x1="553.80" y1="129.60" x2="579.90" y2="129.60" stroke="#41b3f3" stroke-width="2.0" />
<text x="584.80" y="133.40" font-size="10.5" text-anchor="start" fill="#000" font-family="Liberation Sans, sans-serif" font-weight="bold" >+ Cu<tspan font-size="6.5" dy="2.3">1</tspan><tspan dy="-2.3">Ni</tspan><tspan font-size="6.5" dy="2.3">3</tspan><tspan dy="-2.3"></tspan></text>
<line x1="553.80" y1="145.20" x2="579.90" y2="145.20" stroke="#ebb85c" stroke-width="2.0" />
<text x="584.80" y="149.00" font-size="10.5" text-anchor="start" fill="#000" font-family="Liberation Sans, sans-serif" font-weight="bold" >+ Cu<tspan font-size="6.5" dy="2.3">1</tspan><tspan dy="-2.3">Ni</tspan><tspan font-size="6.5" dy="2.3">3</tspan><tspan dy="-2.3"></tspan></text>
</svg></body></html>
